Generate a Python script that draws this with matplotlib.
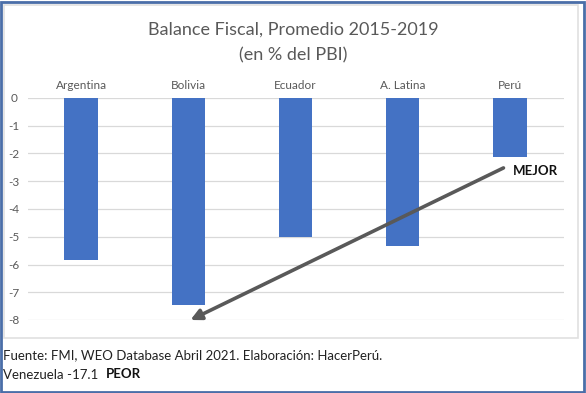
import numpy as np
import matplotlib.pyplot as plt
from matplotlib.patches import Rectangle

plt.rcParams['font.family'] = ['Lato', 'DejaVu Sans']

countries = ['Argentina', 'Bolivia', 'Ecuador', 'A. Latina', 'Perú']
balance = [-5.85, -7.45, -5.0, -5.35, -2.12]
yticks = [0, -1, -2, -3, -4, -5, -6, -7, -8]

W, H = 586, 393
fig = plt.figure(figsize=(W / 100, H / 100), dpi=100)

# outer blue frame and light grey chart panel
fig.patches.append(Rectangle((1 / W, 1 / H), 583 / W, 390 / H, transform=fig.transFigure,
                             fill=False, edgecolor='#4a6ea8', linewidth=2))
fig.patches.append(Rectangle((4 / W, 1 - 338 / H), 574 / W, 333 / H, transform=fig.transFigure,
                             fill=False, edgecolor='#e0e0e0', linewidth=1.2))

ax = fig.add_axes([27.5 / W, 1 - 320 / H, 536 / W, 222 / H])
x = np.arange(len(countries))
ax.bar(x, balance, width=0.31, color='#4472C4', zorder=3)
ax.set_xlim(-0.5, len(countries) - 0.5)
ax.set_ylim(-8, 0)
ax.set_yticks(yticks)
ax.set_yticklabels([str(v) for v in yticks])
ax.grid(axis='y', color='#d9d9d9', linewidth=0.9, zorder=0)
ax.set_axisbelow(True)
for s in ax.spines.values():
    s.set_visible(False)
ax.xaxis.tick_top()
ax.set_xticks(x)
ax.set_xticklabels(countries)
ax.tick_params(axis='x', length=0, pad=5, labelsize=8.5, labelcolor='#595959')
ax.tick_params(axis='y', length=0, pad=10, labelsize=8.5, labelcolor='#595959')
for lab in ax.get_yticklabels():
    lab.set_horizontalalignment('center')

# arrow from MEJOR down to Bolivia
ax.annotate('', xy=(1.02, -8.0), xytext=(3.94, -2.52),
            arrowprops=dict(arrowstyle='-|>', color='#595959', lw=2.6,
                            mutation_scale=16, shrinkA=0, shrinkB=0),
            annotation_clip=False, zorder=4)
ax.text(4.03, -2.62, 'MEJOR', fontsize=9.5, fontweight='bold', ha='left', va='center',
        color='#111111', clip_on=False)

fig.text(0.5, 1 - 30 / H, 'Balance Fiscal, Promedio 2015-2019', ha='center', va='center',
         fontsize=13, color='#595959')
fig.text(0.5, 1 - 55 / H, '(en % del PBI)', ha='center', va='center',
         fontsize=13, color='#595959')

fig.text(3 / W, 1 - 355 / H, 'Fuente: FMI, WEO Database Abril 2021. Elaboración: HacerPerú.',
         ha='left', va='center', fontsize=9.5, color='#222222')
fig.text(3 / W, 1 - 375 / H, 'Venezuela -17.1', ha='left', va='center',
         fontsize=9.5, color='#222222')
fig.text(106 / W, 1 - 374 / H, 'PEOR', ha='left', va='center', fontsize=9.5,
         fontweight='bold', color='#111111')

fig.savefig('out.png', dpi=100)
